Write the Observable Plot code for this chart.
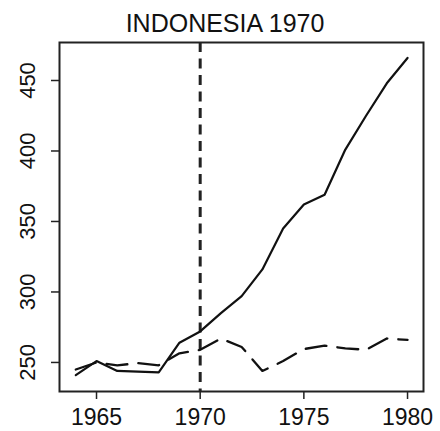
<!DOCTYPE html>
<html>
<head>
<meta charset="utf-8">
<script src="https://cdn.jsdelivr.net/npm/d3@7"></script>
<script src="https://cdn.jsdelivr.net/npm/@observablehq/plot@0.6"></script>
<style>
  html, body { margin: 0; padding: 0; background: #fff; }
  #chart svg { display: block; }
</style>
</head>
<body>
<div id="chart"></div>
<script>
const title = "INDONESIA 1970";
const years = [1964,1965,1966,1967,1968,1969,1970,1971,1972,1973,1974,1975,1976,1977,1978,1979,1980];
const actual = [241,251,244,243.5,243,264,272,285,297,316,345,362,369,401,425,448,466];
const synthetic = [245,250,248,249.5,248,256.5,259,267,261,244,251,259.5,262,260,259,267,266];
const treatmentYear = 1970;
const xTicks = [1965,1970,1975,1980];
const yTicks = [250,300,350,400,450];

const rowsA = years.map((y, i) => ({year: y, value: actual[i]}));
const rowsS = years.map((y, i) => ({year: y, value: synthetic[i]}));

const plot = Plot.plot({
  width: 440,
  height: 431,
  marginLeft: 59,
  marginRight: 17,
  marginTop: 42,
  marginBottom: 40,
  style: {fontFamily: "'Liberation Sans', Arial, Helvetica, sans-serif", fontSize: "22px", color: "#111", background: "#fff"},
  x: {domain: [1963.215, 1980.77]},
  y: {domain: [229.4, 476.95]},
  marks: [
    Plot.axisX({ticks: xTicks, tickFormat: d => String(d), tickSize: 8, tickPadding: 9, label: null, fontSize: 23, stroke: "#222", strokeWidth: 1.5, fill: "#111"}),
    Plot.axisY({ticks: yTicks, tickSize: 8, tickPadding: 17, tickRotate: -90, label: null, fontSize: 22, stroke: "#222", strokeWidth: 1.5, fill: "#111"}),
    Plot.ruleX([treatmentYear], {stroke: "#222", strokeWidth: 3, strokeDasharray: "10,6.5"}),
    Plot.line(rowsS, {x: "year", y: "value", stroke: "#111", strokeWidth: 2.3, strokeDasharray: "21,11"}),
    Plot.line(rowsA, {x: "year", y: "value", stroke: "#111", strokeWidth: 2.2}),
    Plot.frame({stroke: "#222", strokeWidth: 2}),
    Plot.text([title], {frameAnchor: "top", dx: -16.5, dy: -28, fontSize: 25, fill: "#111"})
  ]
});
document.getElementById("chart").appendChild(plot);
</script>
</body>
</html>
